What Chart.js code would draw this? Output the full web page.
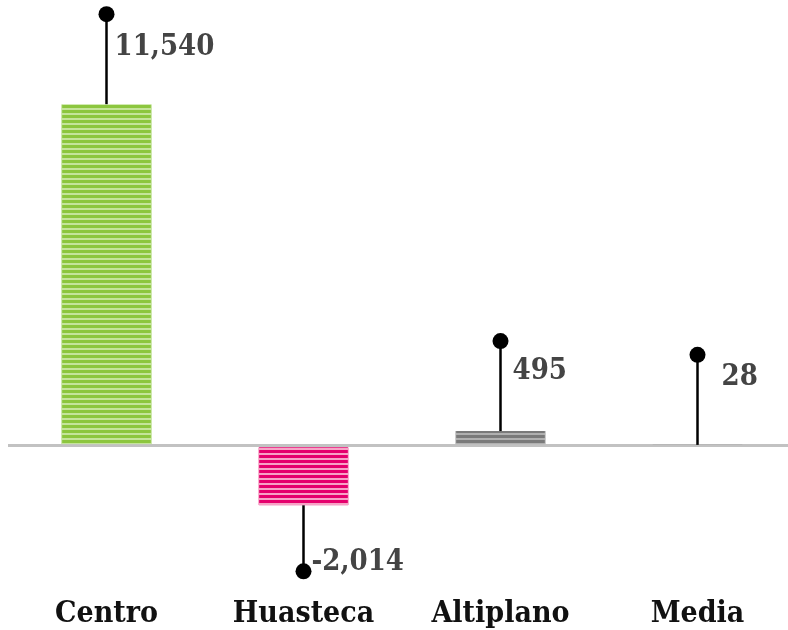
<!DOCTYPE html>
<html>
<head>
<meta charset="utf-8">
<script src="https://cdn.jsdelivr.net/npm/chart.js@4.4.1/dist/chart.umd.min.js"></script>
<style>
  html, body { margin: 0; padding: 0; background: #fff; overflow: hidden; }
  #wrap { width: 800px; height: 650px; }
</style>
</head>
<body>
<div id="wrap"><canvas id="chart"></canvas></div>
<script>
// Data
const regions = ['Centro', 'Huasteca', 'Altiplano', 'Media'];
const balance = [11540, -2014, 495, 28];
const valueLabels = ['11,540', '-2,014', '495', '28'];

const FONT = '"DejaVu Serif Condensed", "DejaVu Serif", serif';

// Striped fill like the original
function stripes(dark, light) {
    const c = document.createElement('canvas');
    c.width = 4; c.height = 5;
    const g = c.getContext('2d');
    g.fillStyle = light;
    g.fillRect(0, 0, 4, 5);
    g.fillStyle = dark;
    g.fillRect(0, 0, 4, 3);
    return g.createPattern(c, 'repeat');
}

const fills = [
    stripes('#8cc63e', '#c4e49a'),
    stripes('#e5006d', '#f7a3c6'),
    stripes('#7a7a7a', '#b0b0b0'),
    stripes('#7a7a7a', '#b0b0b0')
];
const edges = ['#b8de88', '#f490bb', '#b5b5b5', '#b5b5b5'];

// label offsets from the dot: [dx, dy]
const labelOffsets = [[8, 33], [8, -9], [12, 30], [24, 23]];

// Lollipop stems, dots and values
const lollipops = {
    id: 'lollipops',
    afterDatasetsDraw(chart) {
        const ctx = chart.ctx;
        const meta = chart.getDatasetMeta(0);
        meta.data.forEach((bar, i) => {
            const v = balance[i];
            const x = bar.x;
            const y0 = bar.y;
            const len = v >= 0 ? 90 : 66;
            const y1 = v >= 0 ? y0 - len : y0 + len;
            ctx.save();
            ctx.strokeStyle = '#000';
            ctx.lineWidth = 2.5;
            ctx.beginPath();
            ctx.moveTo(x, y0);
            ctx.lineTo(x, y1);
            ctx.stroke();
            ctx.fillStyle = '#000';
            ctx.beginPath();
            ctx.arc(x, y1, 8, 0, Math.PI * 2);
            ctx.fill();
            ctx.fillStyle = '#444';
            ctx.font = 'bold 29px ' + FONT;
            ctx.textBaseline = 'middle';
            ctx.textAlign = 'left';
            const off = labelOffsets[i];
            ctx.fillText(valueLabels[i], x + off[0], y1 + off[1]);
            ctx.restore();
        });
    }
};

const ctx = document.getElementById('chart').getContext('2d');
const chart = new Chart(ctx, {
    type: 'bar',
    data: {
        labels: regions,
        datasets: [{
            data: balance,
            backgroundColor: fills,
            borderColor: edges,
            borderWidth: { left: 1, right: 1, top: 0, bottom: 0 },
            borderSkipped: false,
            barThickness: 90
        }]
    },
    options: {
        responsive: true,
        maintainAspectRatio: false,
        animation: false,
        layout: { padding: { left: 8, right: 4, top: 0, bottom: 0 } },
        plugins: { legend: { display: false }, tooltip: { enabled: false } },
        scales: {
            x: {
                grid: { display: false },
                border: { display: false },
                ticks: {
                    color: '#111',
                    padding: 18,
                    font: { family: FONT, size: 30, weight: 'bold' }
                }
            },
            y: {
                min: -4200,
                max: 15060,
                afterBuildTicks: (s) => { s.ticks = [{ value: 0 }]; },
                grid: { color: '#c2c2c2', lineWidth: 3, drawTicks: false },
                border: { display: false },
                ticks: { display: false }
            }
        }
    },
    plugins: [lollipops]
});
</script>
</body>
</html>
